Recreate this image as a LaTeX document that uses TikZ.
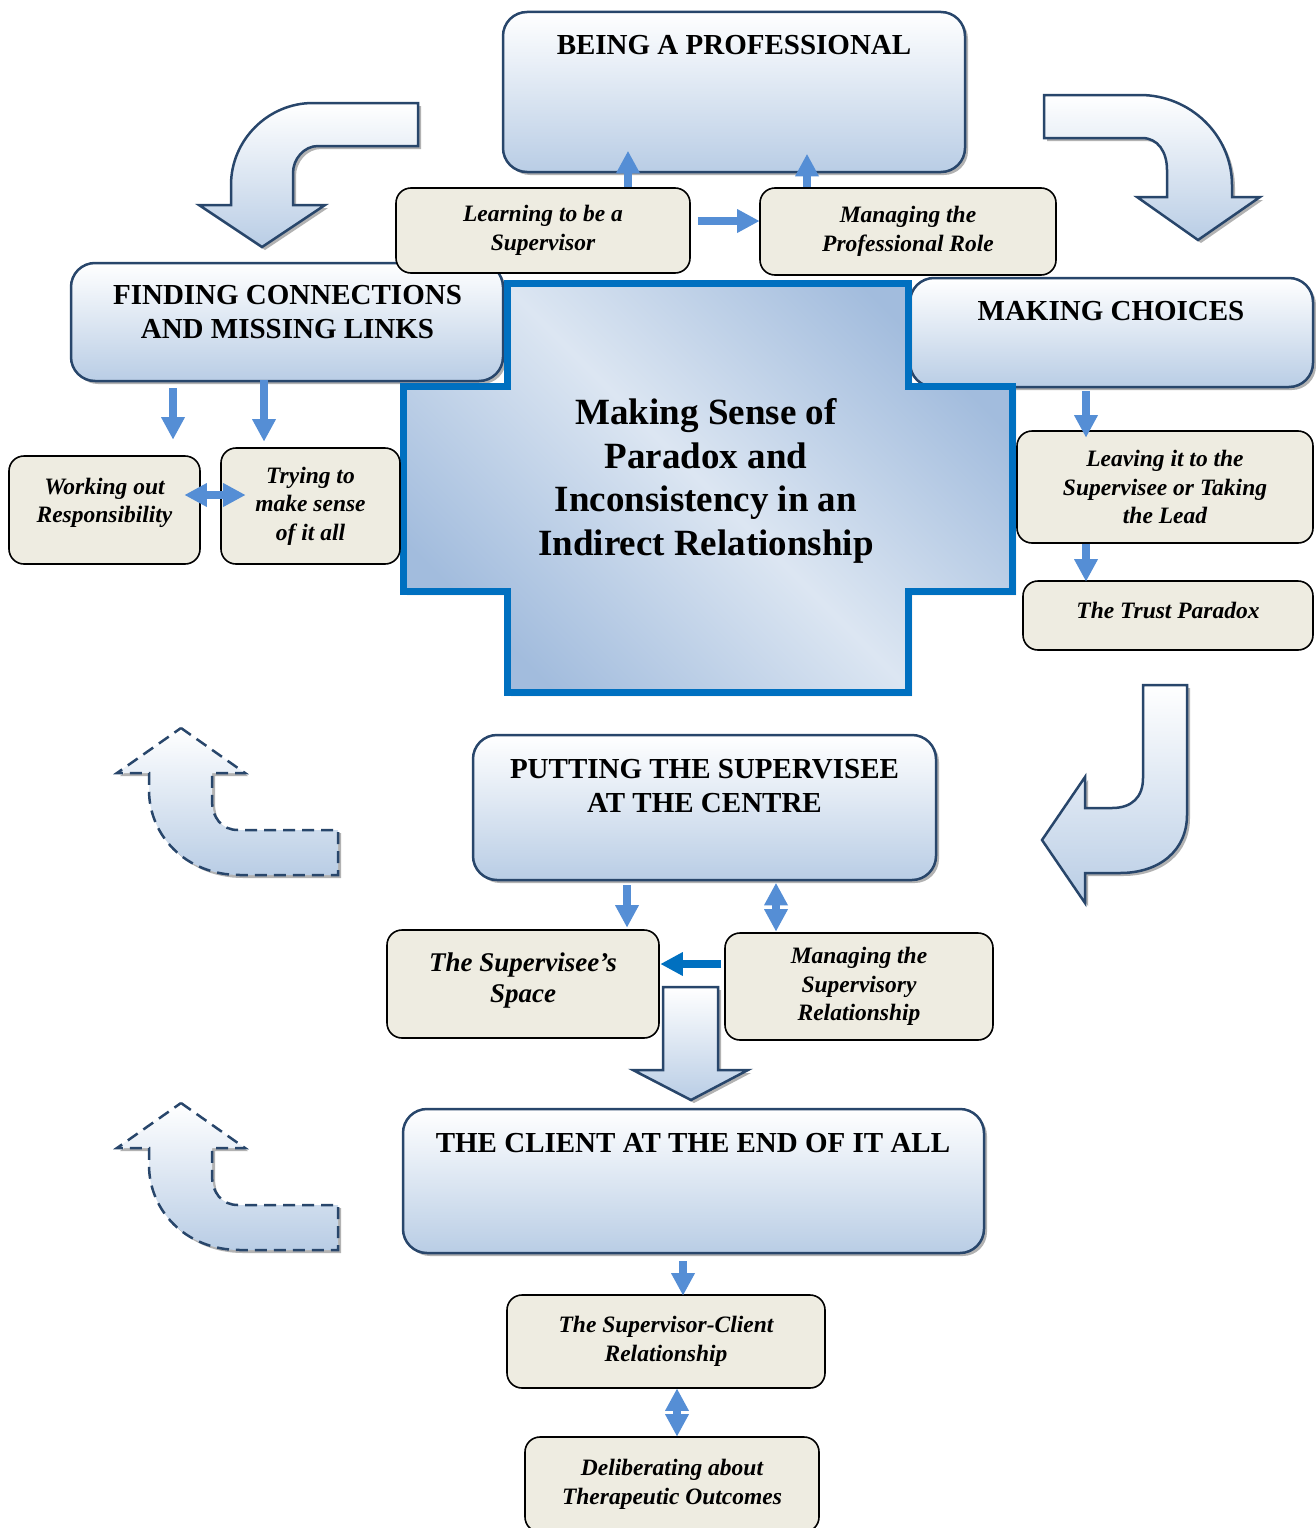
\documentclass[tikz,border=0pt]{standalone}
\usepackage{fontspec}
\setmainfont{Liberation Serif}
\usetikzlibrary{arrows.meta,shadows}
\definecolor{boxfill}{HTML}{EEECE1}
\definecolor{arrblue}{HTML}{558ED5}
\definecolor{darkarr}{HTML}{0070C0}
\definecolor{navy}{HTML}{28466B}
\definecolor{gbot}{HTML}{B9CDE5}
\definecolor{clight}{HTML}{DCE6F2}
\definecolor{cdark}{HTML}{A2BCDD}
\begin{document}
\begin{tikzpicture}[x=1pt,y=-1pt,
  shadowed/.style={drop shadow={shadow xshift=3pt,shadow yshift=-3pt,opacity=0.55,fill=black!55}},
  bigbox/.style={shadowed, draw=navy, line width=2.5pt, rounded corners=24pt, top color=white, bottom color=gbot, inner sep=0pt},
  smallbox/.style={draw=black, line width=1.6pt, rounded corners=15pt, fill=boxfill, align=center, inner sep=0pt, font=\fontsize{23.5}{28.5}\selectfont\bfseries\itshape},
  headtext/.style={align=center, inner sep=0pt, font=\fontsize{29}{34}\selectfont\bfseries},
  blockarrow/.style={shadowed, draw=navy, line width=2.5pt, top color=white, bottom color=gbot},
  dasharrow/.style={blockarrow, dash pattern=on 12pt off 7pt},
  barrow/.style={draw=arrblue, line width=8pt, -{Triangle[width=24pt,length=22pt,line width=0pt]}},
  dbarrow/.style={draw=arrblue, line width=8pt, {Triangle[width=24pt,length=22pt,line width=0pt]}-{Triangle[width=24pt,length=22pt,line width=0pt]}},
  darrow/.style={draw=darkarr, line width=8pt, -{Triangle[width=24pt,length=22pt,line width=0pt]}},
]
\useasboundingbox (0,0) rectangle (1316,1528);

% curved block arrows
\draw[blockarrow] (418,103) -- (313,103) .. controls (268,103) and (231,140) .. (231,185) -- (231,205) -- (199,205) -- (262,247) -- (325,205) -- (293,205) -- (293,173) .. controls (293,159) and (304,146) .. (318,146) -- (418,146) -- cycle;
\draw[blockarrow] (1044,95) -- (1140,95) .. controls (1190,95) and (1232,135) .. (1232,185) -- (1232,197) -- (1260,197) -- (1198,240) -- (1137,197) -- (1167,197) -- (1167,170) .. controls (1167,152) and (1158,138) .. (1142,138) -- (1044,138) -- cycle;
\draw[blockarrow] (1143,685) -- (1187,685) -- (1187,815) .. controls (1187,850) and (1160,873) .. (1120,873) -- (1085,873) -- (1085,903) -- (1042,840) -- (1085,777) -- (1085,808) -- (1112,808) .. controls (1132,808) and (1143,797) .. (1143,778) -- cycle;
\foreach \dy in {0,375}{
  \draw[dasharrow, shift={(0,\dy)}] (181,728) -- (245,773) -- (212,773) -- (212,800) .. controls (212,818) and (222,830) .. (238,830) -- (338,830) -- (338,875) -- (240,875) .. controls (185,875) and (149,835) .. (149,790) -- (149,773) -- (117,773) -- cycle;
}

% top area
\node[bigbox, minimum width=462pt, minimum height=160pt] (prof) at (734,92) {};
\node[headtext] (proft) at (734,45) {BEING A PROFESSIONAL};
\node[bigbox, minimum width=432pt, minimum height=118pt] (find) at (287,322) {};
\node[headtext] (findt) at (287.5,312) {FINDING CONNECTIONS\\AND MISSING LINKS};
\node[bigbox, minimum width=403pt, minimum height=109pt] (choices) at (1111.5,332.5) {};
\node[headtext] (choicest) at (1111,311) {MAKING CHOICES};
\node[smallbox, minimum width=294pt, minimum height=85pt] (learn) at (543,230.5) {Learning to be a\\Supervisor};
\node[smallbox, minimum width=296pt, minimum height=87pt] (manage) at (908,231.5) {Managing the\\Professional Role};

% centre cross
\draw[drop shadow={shadow xshift=4pt,shadow yshift=-4pt,opacity=0.55,fill=black!55},
      draw=darkarr, line width=7pt, top color=cdark, bottom color=cdark, middle color=clight, shading angle=-45]
  (507,283) -- (908,283) -- (908,386) -- (1012,386) -- (1012,591) -- (908,591) -- (908,692) -- (507,692) -- (507,591) -- (403,591) -- (403,386) -- (507,386) -- cycle;
\node[align=center, inner sep=0pt, font=\fontsize{37}{43.5}\selectfont\bfseries] (core) at (706,481) {Making Sense of\\Paradox and\\Inconsistency in an\\Indirect Relationship};

\draw[barrow] ([xshift=85pt]learn.north) -- ([xshift=-106pt,yshift=22pt]prof.south);
\draw[barrow] ([xshift=-101pt]manage.north) -- ([xshift=73pt,yshift=19pt]prof.south);
\draw[barrow] ([xshift=7pt,yshift=9.5pt]learn.east) -- ([yshift=10.5pt]manage.west);

% left side
\node[smallbox, minimum width=191pt, minimum height=108pt] (work) at (104.5,510) {Working out\\Responsibility\\[-9pt]\mbox{}};
\node[smallbox, minimum width=179pt, minimum height=116pt] (trying) at (310.5,506) {Trying to\\make sense\\of it all};
\draw[barrow] ([xshift=-114pt,yshift=-6pt]find.south) -- ([xshift=68.5pt,yshift=16pt]work.north);
\draw[barrow] ([xshift=-23pt,yshift=2pt]find.south) -- ([xshift=-46.5pt,yshift=6pt]trying.north);
\draw[dbarrow] ([xshift=-16pt,yshift=15pt]work.east) -- ([xshift=25pt,yshift=11pt]trying.west);

% right side
\node[smallbox, minimum width=296pt, minimum height=112pt] (leaving) at (1165,487) {Leaving it to the\\Supervisee or Taking\\the Lead};
\node[smallbox, minimum width=290pt, minimum height=69pt] (trust) at (1168,615.5) {The Trust Paradox\\[-18.5pt]\mbox{}};
\draw[barrow] ([xshift=-25.5pt,yshift=-3pt]choices.south) -- ([xshift=-79pt,yshift=-7pt]leaving.north);
\draw[barrow] ([xshift=-79pt]leaving.south) -- ([xshift=-82pt,yshift=-1pt]trust.north);

% middle
\node[bigbox, minimum width=463pt, minimum height=145pt] (putting) at (704.5,807.5) {};
\node[headtext] (puttingt) at (704.5,786) {PUTTING THE SUPERVISEE\\AT THE CENTRE};
\node[smallbox, minimum width=272pt, minimum height=108pt, font=\fontsize{27}{31}\selectfont\bfseries\itshape] (space) at (523,984) {The Supervisee’s\\Space\\[-18pt]\mbox{}};
\node[smallbox, minimum width=268pt, minimum height=107pt] (msr) at (859,986.5) {Managing the\\Supervisory\\Relationship};
\draw[barrow] ([xshift=-77.5pt,yshift=-4pt]putting.south) -- ([xshift=104pt,yshift=2pt]space.north);
\draw[dbarrow] ([xshift=71.5pt,yshift=-2pt]putting.south) -- ([xshift=-83pt,yshift=1pt]msr.north);
\draw[darrow] ([xshift=-3pt,yshift=22.5pt]msr.west) -- ([xshift=1pt,yshift=20pt]space.east);

\draw[blockarrow] (663,987) -- (718,987) -- (718,1070) -- (748,1070) -- (691,1100) -- (633,1070) -- (663,1070) -- cycle;

% bottom
\node[bigbox, minimum width=581pt, minimum height=144pt] (client) at (693.5,1181) {};
\node[headtext] (clientt) at (693,1143) {THE CLIENT AT THE END OF IT ALL};
\node[smallbox, minimum width=318pt, minimum height=93pt] (scr) at (666,1341.5) {The Supervisor-Client\\Relationship};
\node[smallbox, minimum width=294pt, minimum height=95pt] (delib) at (672,1484.5) {Deliberating about\\Therapeutic Outcomes};
\draw[barrow] ([xshift=-10.5pt,yshift=-7pt]client.south) -- ([xshift=17pt,yshift=-1pt]scr.north);
\draw[dbarrow] ([xshift=11pt]scr.south) -- ([xshift=5pt]delib.north);
\end{tikzpicture}
\end{document}
